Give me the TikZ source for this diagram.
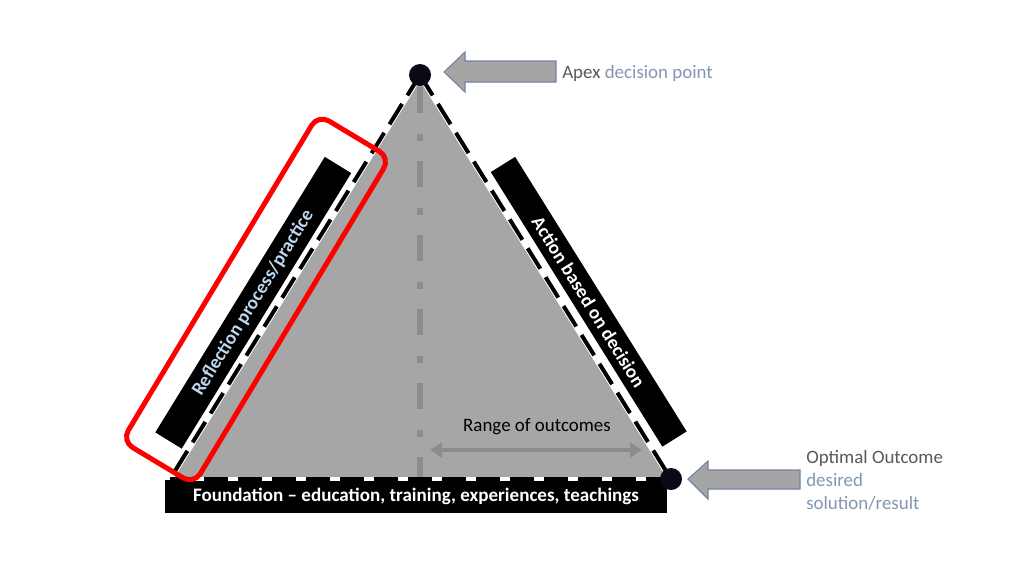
\documentclass[tikz,border=0pt]{standalone}
\usepackage{fontspec}
\setmainfont{Carlito}
\usetikzlibrary{arrows.meta}
\definecolor{trigray}{HTML}{A6A6A6}
\definecolor{vgray}{HTML}{8C8C8C}
\definecolor{arrfill}{HTML}{A5A5A5}
\definecolor{arredge}{HTML}{7384A3}
\definecolor{txtgray}{HTML}{595959}
\definecolor{bluegray}{HTML}{8497B0}
\definecolor{lightblue}{HTML}{BDD7EE}
\definecolor{dotcol}{HTML}{0A0A14}
\definecolor{hlred}{HTML}{FF0000}
\begin{document}
\begin{tikzpicture}[x=0.75pt,y=-0.75pt,
  edgewhite/.style={white,line width=4.5pt},
  edgedash/.style={black,line width=3pt,dash pattern=on 18pt off 7.5pt},
  vline/.style={vgray,line width=5pt,dash pattern=on 19.5pt off 15.75pt on 5.25pt off 15pt},
  blackbar/.style={fill=black,inner sep=0pt,font=\fontsize{14.3}{17}\selectfont\bfseries},
  blockarrow/.style={fill=arrfill,draw=arredge,line width=0.8pt},
  lbl/.style={inner sep=0pt,font=\fontsize{14.2}{17.25}\selectfont},
  dotstyle/.style={circle,fill=dotcol,inner sep=0pt,minimum size=16.5pt},
  rangearrow/.style={vgray,line width=3pt,{Triangle[length=9pt,width=11pt]}-{Triangle[length=9pt,width=11pt]}},
  highlight/.style={draw=hlred,line width=3.75pt,rounded corners=9.4pt,inner sep=0pt}
]
\useasboundingbox (0,0) rectangle (1024,576);
\fill[white] (0,0) rectangle (1024,576);
% triangle
\coordinate (apex) at (420,75);
\coordinate (bl) at (170,479);
\coordinate (br) at (671,479);
\fill[trigray] (apex) -- (bl) -- (br) -- cycle;
% vertical dash-dot axis
\coordinate (vtop) at (420,87);
\coordinate (vbot) at (420,478);
\draw[vline] (vtop) -- (vbot);
% foundation bar
\node[blackbar,text=white,minimum width=376.5pt,minimum height=24.75pt] (found) at (416,496.5)
  {Foundation -- education, training, experiences, teachings};
% edges
\draw[edgewhite] (apex) -- (bl);
\draw[edgewhite] (apex) -- (br);
\draw[edgedash] (apex) -- (bl);
\draw[edgedash] (apex) -- (br);
\draw[white,line width=3pt] (bl) -- (br);
\draw[edgedash] (bl) -- (br);
% side bars
\node[blackbar,text=lightblue,minimum width=242.6pt,minimum height=23.25pt,rotate=58.4] (refl) at (253.25,302.75)
  {Reflection process/practice};
\node[blackbar,text=white,minimum width=242.8pt,minimum height=21.5pt,rotate=-58] (act) at (588.75,301.75)
  {Action based on decision};
% highlight
\node[highlight,minimum width=285.75pt,minimum height=63pt,rotate=59] (hl) at (256,299.4) {};
% range of outcomes
\coordinate (rl) at (430,450);
\coordinate (rr) at (642,450);
\draw[rangearrow] (rl) -- (rr);
\node[lbl,text=black] (range) at (537,427) {Range of outcomes};
% dots
\node[dotstyle] (apexdot) at (apex) {};
\node[dotstyle] (optdot) at (br) {};
% block arrows
\draw[blockarrow] (444,72) -- (465,52) -- (465,61) -- (556,61) -- (556,82) -- (465,82) -- (465,92) -- cycle;
\draw[blockarrow] (688,479) -- (708,461) -- (708,470) -- (800,470) -- (800,489) -- (708,489) -- (708,499) -- cycle;
% labels
\node[lbl,anchor=west,text=txtgray] (apextxt) at (562,73) {Apex \textcolor{bluegray}{decision point}};
\node[lbl,anchor=west,align=left,text=txtgray] (opttxt) at (806,480)
  {Optimal Outcome\\\textcolor{bluegray}{desired}\\\textcolor{bluegray}{solution/result}};
\end{tikzpicture}
\end{document}
